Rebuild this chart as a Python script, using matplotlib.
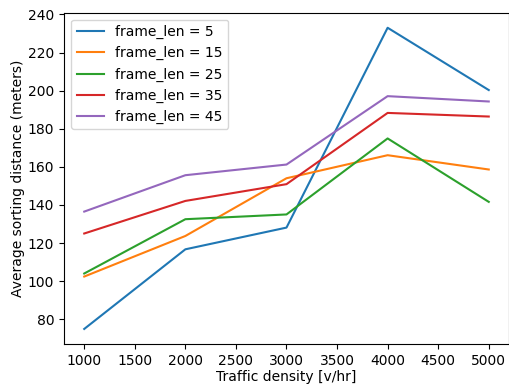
import matplotlib
matplotlib.use("Agg")
import matplotlib.pyplot as plt

# traffic density values on the x axis
density = [1000, 2000, 3000, 4000, 5000]

# average sorting distance for each frame length
frame_5 = [74.9, 116.7, 128.1, 233.0, 200.3]
frame_15 = [102.4, 123.7, 154.0, 166.1, 158.6]
frame_25 = [104.0, 132.5, 135.0, 174.9, 141.6]
frame_35 = [125.0, 142.1, 150.9, 188.3, 186.4]
frame_45 = [136.5, 155.6, 161.2, 197.1, 194.3]

series = [
    ("frame_len = 5", frame_5),
    ("frame_len = 15", frame_15),
    ("frame_len = 25", frame_25),
    ("frame_len = 35", frame_35),
    ("frame_len = 45", frame_45),
]

fig = plt.figure(figsize=(5.1, 3.85), dpi=100)
ax = fig.add_subplot(111)
for label, values in series:
    ax.plot(density, values, label=label)

ax.set_xlabel("Traffic density [v/hr]", labelpad=1.5)
ax.set_ylabel("Average sorting distance (meters)", labelpad=2)
ax.legend(loc="upper left")

fig.subplots_adjust(left=0.1255, right=0.998, top=0.967, bottom=0.1065)
fig.savefig("out.png", dpi=100)
